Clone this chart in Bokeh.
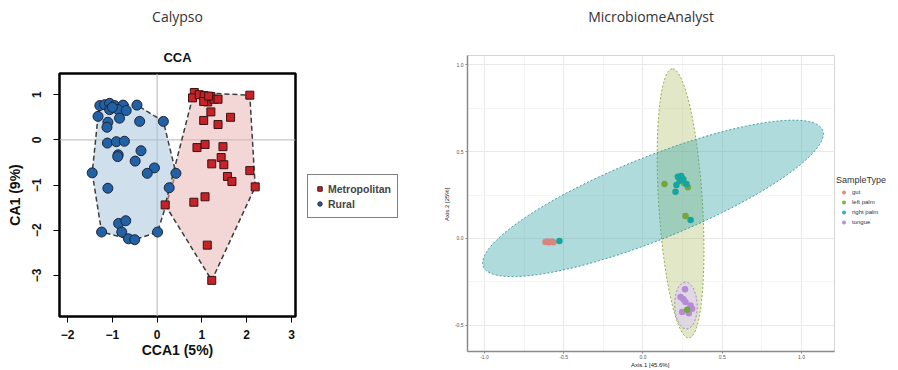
import numpy as np
from bokeh.plotting import figure
from bokeh.models import Title, Span, FixedTicker, Legend, LegendItem, Range1d, PrintfTickFormatter
from bokeh.layouts import row
from bokeh.embed import file_html
from bokeh.resources import INLINE

# ---------------- Left panel data (Calypso CCA) ----------------
rural_x = [-1.28, -1.17, -1.06, -0.95, -0.76, -0.45, -1.06, -0.87, -0.69, -1.32, -0.84, -1.10,
           -1.12, -0.39, 0.14, -1.11, -0.91, -0.73, -0.87, -0.36, -0.49, -0.06, -0.22, -1.45,
           0.42, 0.27, -1.10, -0.86, -0.70, -1.24, -0.79, 0.01, -0.64, -0.50, -1.00, -0.88]
rural_y = [0.76, 0.78, 0.81, 0.76, 0.77, 0.77, 0.67, 0.67, 0.65, 0.52, 0.48, 0.39,
           0.28, 0.41, 0.41, -0.07, -0.04, -0.03, -0.33, -0.24, -0.47, -0.62, -0.74, -0.73,
           -0.74, -1.06, -1.07, -1.85, -1.79, -2.04, -2.04, -2.04, -2.19, -2.21, 0.72, -0.37]
metro_x = [0.83, 0.79, 0.94, 1.05, 1.13, 1.20, 1.27, 1.36, 1.04, 2.07, 1.20, 1.04, 1.36, 1.64,
           0.89, 1.07, 1.47, 1.43, 1.22, 1.49, 2.07, 1.57, 1.67, 2.19, 1.07, 0.82, 0.18, 1.12,
           1.22, 1.15]
metro_y = [1.05, 0.93, 1.00, 0.98, 0.84, 0.96, 0.90, 0.90, 0.85, 0.99, 0.62, 0.43, 0.34, 0.50,
           -0.17, -0.10, -0.15, -0.39, -0.53, -0.55, -0.68, -0.81, -0.92, -1.04, -1.26, -1.38,
           -1.44, -2.33, -3.11, 0.97]
cca_xticks = [-2, -1, 0, 1, 2, 3]
cca_yticks = [-3, -2, -1, 0, 1]

# ---------------- Right panel data (MicrobiomeAnalyst PCoA) ----------------
gut_x = [-0.615, -0.605, -0.595, -0.585, -0.575, -0.565]
gut_y = [-0.020, -0.018, -0.022, -0.020, -0.018, -0.021]
left_palm_x = [0.136, 0.283, 0.268, 0.230, 0.258, 0.279]
left_palm_y = [0.314, 0.295, 0.129, 0.350, 0.320, -0.410]
right_palm_x = [-0.527, 0.220, 0.241, 0.232, 0.254, 0.211, 0.274, 0.205, 0.300]
right_palm_y = [-0.014, 0.356, 0.360, 0.333, 0.341, 0.308, 0.314, 0.269, 0.106]
tongue_x = [0.265, 0.237, 0.268, 0.300, 0.247, 0.289, 0.310, 0.255]
tongue_y = [-0.292, -0.337, -0.366, -0.386, -0.424, -0.430, -0.405, -0.350]

# confidence ellipses (center, semi-axes, rotation in degrees)
ell_group = ["left palm", "right palm", "tongue"]
ell_cx = [0.237, 0.063, 0.271]
ell_cy = [0.202, 0.231, -0.386]
ell_a = [0.777, 1.140, 0.135]
ell_b = [0.138, 0.240, 0.071]
ell_angle = [93.9, 20.0, 92.0]

pc_ticks = [-1.0, -0.5, 0.0, 0.5, 1.0]
pc_minor = [-1.25, -0.75, -0.25, 0.25, 0.75, 1.25]

sample_types = ["gut", "left palm", "right palm", "tongue"]
sample_x = [gut_x, left_palm_x, right_palm_x, tongue_x]
sample_y = [gut_y, left_palm_y, right_palm_y, tongue_y]

BOLD = "Liberation Sans"


def convex_hull(xs, ys):
    pts = sorted(set(zip(xs, ys)))

    def cross(o, a, b):
        return (a[0] - o[0]) * (b[1] - o[1]) - (a[1] - o[1]) * (b[0] - o[0])

    lower, upper = [], []
    for pt in pts:
        while len(lower) >= 2 and cross(lower[-2], lower[-1], pt) <= 0:
            lower.pop()
        lower.append(pt)
    for pt in reversed(pts):
        while len(upper) >= 2 and cross(upper[-2], upper[-1], pt) <= 0:
            upper.pop()
        upper.append(pt)
    hull = lower[:-1] + upper[:-1]
    return [q[0] for q in hull], [q[1] for q in hull]


def ellipse_path(cx, cy, a, b, ang_deg, n=240):
    t = np.linspace(0, 2 * np.pi, n)
    ang = np.deg2rad(ang_deg)
    ex = cx + a * np.cos(t) * np.cos(ang) - b * np.sin(t) * np.sin(ang)
    ey = cy + a * np.cos(t) * np.sin(ang) + b * np.sin(t) * np.cos(ang)
    return ex, ey


def legend_panel(width):
    # a blank canvas holding only a legend; its ranges lie away from the data,
    # so the data renderers used for the legend glyphs draw nothing here
    lp = figure(width=width, height=370, x_range=Range1d(100, 101), y_range=Range1d(100, 101),
                output_backend="svg", toolbar_location=None, title=None,
                x_axis_location=None, y_axis_location=None, min_border=0,
                outline_line_color=None, frame_align=False)
    lp.grid.visible = False
    return lp


def spacer_title(standoff):
    return Title(text=" ", text_font_size="1px", standoff=standoff)


# ================= Left figure =================
p1 = figure(width=307, height=370, x_range=Range1d(-2.18, 3.09), y_range=Range1d(-3.91, 1.47),
            output_backend="svg", toolbar_location=None, frame_align=False,
            min_border_left=59, min_border_right=12, min_border_top=0, min_border_bottom=54,
            title="Calypso")
p1.title.align = "center"
p1.title.text_font = "Open Sans"
p1.title.text_font_size = "14px"
p1.title.text_font_style = "normal"
p1.title.text_color = "#333333"
p1.title.standoff = 8
p1.add_layout(Title(text="CCA", align="center", text_font=BOLD, text_font_size="13px",
                    text_font_style="bold", text_color="#111111", standoff=17), "above")
p1.add_layout(spacer_title(7), "above")

p1.outline_line_color = "black"
p1.outline_line_width = 2.5
p1.xgrid.visible = False
p1.ygrid.visible = False
p1.background_fill_color = "white"

p1.add_layout(Span(location=0, dimension="height", line_color="#b5b5b5", line_width=1, level="underlay"))
p1.add_layout(Span(location=0, dimension="width", line_color="#b5b5b5", line_width=1, level="underlay"))

hx, hy = convex_hull(rural_x, rural_y)
p1.patch(hx, hy, fill_color="#a9c4dc", fill_alpha=0.55, line_color="#3d3d3d",
         line_dash="5 3", line_width=1.5)
hx, hy = convex_hull(metro_x, metro_y)
p1.patch(hx, hy, fill_color="#e8b0b0", fill_alpha=0.5, line_color="#3d3d3d",
         line_dash="5 3", line_width=1.5)

RURAL = dict(marker="circle", fill_color="#2361a6", line_color="#1b2536", line_width=1)
METRO = dict(marker="square", fill_color="#c62228", line_color="#3b1212", line_width=1)
p1.scatter(rural_x, rural_y, size=10, **RURAL)
p1.scatter(metro_x, metro_y, size=8, **METRO)

for ax in (p1.xaxis[0], p1.yaxis[0]):
    ax.axis_line_color = None
    ax.major_tick_out = 6
    ax.major_tick_in = 0
    ax.major_tick_line_color = "black"
    ax.minor_tick_line_color = None
    ax.major_label_text_font = BOLD
    ax.major_label_text_font_style = "bold"
    ax.major_label_text_font_size = "12px"
    ax.major_label_text_color = "#111111"
    ax.axis_label_text_font = BOLD
    ax.axis_label_text_font_style = "bold"
    ax.axis_label_text_font_size = "14px"
    ax.axis_label_text_color = "#111111"
p1.xaxis.ticker = FixedTicker(ticks=cca_xticks)
p1.yaxis.ticker = FixedTicker(ticks=cca_yticks)
p1.xaxis.axis_label = "CCA1 (5%)"
p1.yaxis.axis_label = "CA1 (9%)"
p1.xaxis.major_label_standoff = 7
p1.xaxis.axis_label_standoff = 0
p1.yaxis.major_label_orientation = "vertical"
p1.yaxis.major_label_standoff = 12
p1.yaxis.axis_label_standoff = 7

# legend of left panel (outside its plot box)
lg1 = legend_panel(111)
d_metro = lg1.scatter(metro_x, metro_y, size=8, **METRO)
d_rural = lg1.scatter(rural_x, rural_y, size=10, **RURAL)
leg1 = Legend(items=[LegendItem(label="Metropolitan", renderers=[d_metro]),
                     LegendItem(label="Rural", renderers=[d_rural])],
              location=(0, 152), padding=6, spacing=0,
              glyph_width=11, glyph_height=15, label_height=15, label_standoff=3,
              label_text_font=BOLD, label_text_font_style="bold", label_text_font_size="10.5px",
              border_line_color="black", border_line_width=1, background_fill_color="white")
lg1.add_layout(leg1, "center")

# ================= Right figure =================
p2 = figure(width=418, height=370, x_range=Range1d(-1.107, 1.208), y_range=Range1d(-0.651, 1.054),
            output_backend="svg", toolbar_location=None, frame_align=False,
            min_border_left=49, min_border_right=2, min_border_top=0, min_border_bottom=19,
            title="MicrobiomeAnalyst")
p2.title.align = "center"
p2.title.text_font = "Open Sans"
p2.title.text_font_size = "14px"
p2.title.text_font_style = "normal"
p2.title.text_color = "#333333"
p2.title.standoff = 8
p2.add_layout(spacer_title(23), "above")

p2.outline_line_color = "#d4d4d4"
p2.outline_line_width = 1
p2.background_fill_color = "white"
for g in (p2.xgrid[0], p2.ygrid[0]):
    g.ticker = FixedTicker(ticks=pc_ticks, minor_ticks=pc_minor)
    g.grid_line_color = "#e9e9e9"
    g.grid_line_width = 1
    g.minor_grid_line_color = "#f2f2f2"
    g.minor_grid_line_width = 0.8

ell_fill = {"left palm": ("#a0b346", 0.30), "right palm": ("#3aa6ab", 0.4), "tongue": ("#ded3e6", 0.85)}
ell_line = {"left palm": "#93aa3e", "right palm": "#3f9da2", "tongue": "#9a7db4"}
for grp, cx, cy, a, b, ang in zip(ell_group, ell_cx, ell_cy, ell_a, ell_b, ell_angle):
    ex, ey = ellipse_path(cx, cy, a, b, ang)
    fc, fa = ell_fill[grp]
    p2.patch(ex, ey, fill_color=fc, fill_alpha=fa, line_color=ell_line[grp],
             line_dash="2 2", line_width=1)

pt_col = {"gut": "#d9847c", "left palm": "#74a63a", "right palm": "#15a5a0", "tongue": "#b58bd8"}
leg_col = {"gut": "#e58a84", "left palm": "#86b33c", "right palm": "#2bb6b9", "tongue": "#b98ee0"}
draw_order = ["gut", "tongue", "left palm", "right palm"]
for st in draw_order:
    i = sample_types.index(st)
    p2.scatter(sample_x[i], sample_y[i], marker="circle", size=6.5, fill_color=pt_col[st], line_color=None)

for ax in (p2.xaxis[0], p2.yaxis[0]):
    ax.axis_line_color = "#8a8a8a"
    ax.axis_line_width = 1.5
    ax.major_tick_out = 2
    ax.major_tick_in = 0
    ax.major_tick_line_color = "#8a8a8a"
    ax.minor_tick_line_color = None
    ax.major_label_text_font = BOLD
    ax.major_label_text_font_size = "5px"
    ax.major_label_text_color = "#555555"
    ax.major_label_standoff = 2
    ax.axis_label_text_font = BOLD
    ax.axis_label_text_font_style = "normal"
    ax.axis_label_text_font_size = "6px"
    ax.axis_label_text_color = "#222222"
    ax.axis_label_standoff = 2
    ax.formatter = PrintfTickFormatter(format="%.1f")
p2.xaxis.ticker = FixedTicker(ticks=pc_ticks)
p2.yaxis.ticker = FixedTicker(ticks=pc_ticks)
p2.xaxis.major_label_standoff = 1
p2.xaxis.axis_label_standoff = 0
p2.xaxis.axis_label = "Axis.1  [45.6%]"
p2.yaxis.axis_label = "Axis.2  [25%]"

# legend of right panel
lg2 = legend_panel(62)
items2 = []
for st, sx, sy in zip(sample_types, sample_x, sample_y):
    d = lg2.scatter(sx, sy, marker="circle", size=6.5, fill_color=leg_col[st], line_color=None)
    items2.append(LegendItem(label=st, renderers=[d]))
leg2 = Legend(items=items2,
              title="SampleType", title_text_font=BOLD, title_text_font_size="9px",
              title_text_font_style="normal", title_text_color="#333333", title_standoff=2,
              location=(0, 143), padding=0, spacing=0,
              glyph_width=15, glyph_height=10, label_height=10, label_standoff=1,
              label_text_font=BOLD, label_text_font_size="6px", label_text_color="#333333",
              border_line_color=None, background_fill_color=None)
lg2.add_layout(leg2, "center")

layout = row(p1, lg1, p2, lg2)
open("out.html", "w").write(file_html(layout, INLINE))
